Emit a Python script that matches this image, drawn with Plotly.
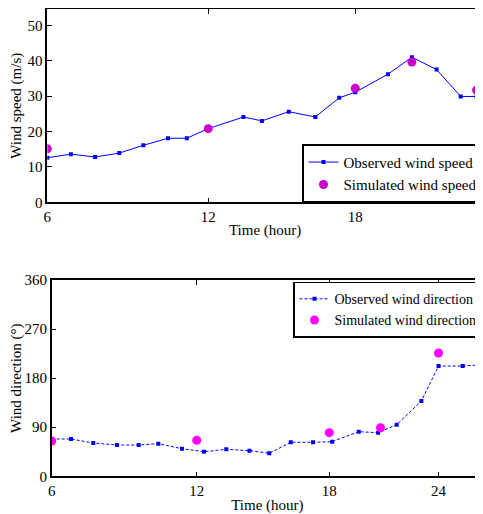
import plotly.graph_objects as go

# ---- data (x values are positions on the drawn time axis) ----
tick_pos = [6, 12, 17.48, 22.0]
tick_text = ["6", "12", "18", "24"]

t_obs_speed = [6.0, 6.88, 7.78, 8.68, 9.58, 10.50, 11.20, 12.0, 13.31, 14.0,
               15.0, 15.99, 16.88, 17.48, 18.70, 19.59, 20.51, 21.41, 22.0, 22.6]
obs_speed = [12.6, 13.6, 12.8, 13.9, 16.1, 18.1, 18.1, 20.8, 24.1, 23.0,
             25.6, 24.1, 29.5, 31.1, 36.2, 41.0, 37.5, 29.9, 29.9, 29.9]

t_sim = [6.0, 12.0, 17.48, 19.59, 22.0]
sim_speed = [15.1, 20.8, 32.2, 39.6, 31.7]

t_obs_dir = [6.0, 6.8, 7.72, 8.70, 9.60, 10.41, 11.39, 12.30, 13.22, 14.18,
             15.0, 15.89, 16.81, 17.60, 18.70, 19.50, 20.27, 21.29, 22.0, 23.0, 23.79]
obs_dir = [68.4, 68.4, 61.1, 57.4, 57.4, 59.8, 50.6, 45.1, 49.5, 47.0,
           42.2, 62.4, 62.4, 63.5, 81.8, 80.0, 94.6, 138.1, 202.2, 202.2, 204.6]

t_sim_dir = [6.0, 12.0, 17.48, 19.60, 22.0]
sim_dir = [64.7, 66.0, 80.0, 89.1, 226.1]

speed_ticks = [0, 10, 20, 30, 40, 50]
dir_ticks = [0, 90, 180, 270, 360]

# page body keeps an 8px margin, so the figure is drawn 8px in from the corner
OFF = 8
W, H = 483 - OFF, 514 - OFF
FONT = "Liberation Serif, Times New Roman, serif"


def fx(px):
    return (px - OFF) / W


def fy(py):
    return 1 - (py - OFF) / H


fig = go.Figure()
fig.add_trace(go.Scatter(x=t_obs_speed, y=obs_speed, mode="lines+markers",
                         name="Observed wind speed",
                         line=dict(color="#0000ff", width=1),
                         marker=dict(symbol="square", size=4, color="#0000ff"),
                         xaxis="x", yaxis="y", legend="legend"))
fig.add_trace(go.Scatter(x=t_sim, y=sim_speed, mode="markers",
                         name="Simulated wind speed",
                         marker=dict(symbol="circle", size=9, color="#cc00cc"),
                         xaxis="x", yaxis="y", legend="legend"))
fig.add_trace(go.Scatter(x=t_obs_dir, y=obs_dir, mode="lines+markers",
                         name="Observed wind direction",
                         line=dict(color="#0000ff", width=1, dash="3px,2px"),
                         marker=dict(symbol="square", size=4, color="#0000ff"),
                         xaxis="x2", yaxis="y2", legend="legend2"))
fig.add_trace(go.Scatter(x=t_sim_dir, y=sim_dir, mode="markers",
                         name="Simulated wind direction",
                         marker=dict(symbol="circle", size=9, color="#ff00ff"),
                         xaxis="x2", yaxis="y2", legend="legend2"))

axis_common = dict(showline=True, linecolor="black", linewidth=1.5, mirror="ticks",
                   ticks="inside", ticklen=5, tickwidth=1, tickcolor="black",
                   showgrid=False, zeroline=False, automargin=False,
                   tickfont=dict(family=FONT, size=15, color="black"))
title_font = dict(family=FONT, size=15, color="black")

fig.update_layout(
    template="none",
    width=W, height=H,
    margin=dict(l=0, r=0, t=0, b=0, pad=0),
    paper_bgcolor="white", plot_bgcolor="white",
    font=dict(family=FONT, size=15, color="black"),
    xaxis=dict(domain=[fx(47.3), 1.0], range=[6, 22.24],
               tickvals=tick_pos, ticktext=tick_text,
               title=dict(text="Time (hour)", font=title_font, standoff=0),
               anchor="y", **axis_common),
    yaxis=dict(domain=[fy(202.3), fy(9.2)], range=[0, 54.55],
               tickvals=speed_ticks,
               title=dict(text="Wind speed (m/s)", font=title_font, standoff=4),
               anchor="x", **axis_common),
    xaxis2=dict(domain=[fx(51.7), 1.0], range=[6, 23.84],
                tickvals=tick_pos, ticktext=tick_text,
                title=dict(text="Time (hour)", font=title_font, standoff=1),
                anchor="y2", **axis_common),
    yaxis2=dict(domain=[fy(476.3), fy(280)], range=[0, 360],
                tickvals=dir_ticks,
                title=dict(text="Wind direction (°)", font=title_font, standoff=4),
                anchor="x2", **axis_common),
    legend=dict(x=1, xanchor="right", y=fy(202.3), yanchor="bottom",
                bordercolor="black", borderwidth=1.5, bgcolor="white",
                font=dict(family=FONT, size=15, color="black"),
                tracegroupgap=0, itemwidth=30),
    legend2=dict(x=1, xanchor="right", y=fy(281.7), yanchor="top",
                 bordercolor="black", borderwidth=1.5, bgcolor="white",
                 font=dict(family=FONT, size=14, color="black"),
                 tracegroupgap=0, itemwidth=30),
    showlegend=True,
)

fig.write_html("out.html")
